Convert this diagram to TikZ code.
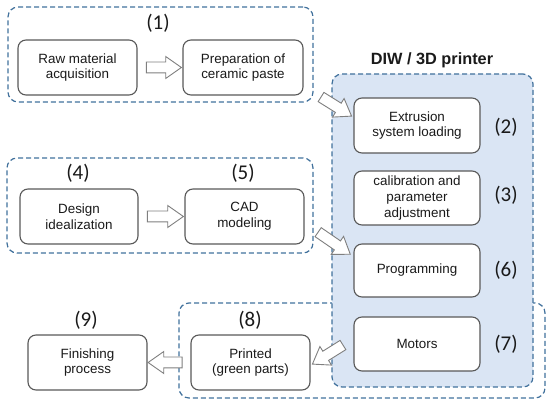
\documentclass[tikz,border=0pt]{standalone}
\usepackage{fontspec}
\setmainfont{Liberation Sans}
\newfontfamily\numfont{Carlito}
\usetikzlibrary{shapes.arrows,calc}
\definecolor{dashblue}{HTML}{41719C}
\definecolor{panelblue}{HTML}{DAE5F4}
\definecolor{boxgray}{HTML}{595959}
\definecolor{arrgray}{HTML}{7F7F7F}
\definecolor{txt}{HTML}{1A1A1A}
\begin{document}
\begin{tikzpicture}[x=1pt,y=-1pt,
 stepbox/.style={draw=boxgray, line width=1.1pt, rounded corners=8pt, fill=white, align=center, text=txt,
   font=\fontsize{13.4}{15.7}\selectfont, inner sep=0pt, minimum height=55pt},
 group/.style={draw=dashblue, line width=1.2pt, dash pattern=on 5pt off 3pt, rounded corners=10pt, inner sep=0pt},
 num/.style={font=\numfont\fontsize{21}{24}\selectfont, inner sep=0pt, text=txt},
 blockarrow/.style={single arrow, draw=arrgray, fill=white, line width=0.9pt, inner xsep=0pt, inner ysep=5pt,
   single arrow head extend=5.5pt, single arrow tip angle=70, minimum height=#1, anchor=center},
]
\useasboundingbox (0,0) rectangle (550,409);

% groups
\node[group, minimum width=305pt, minimum height=95pt] (g1) at (160.5,54.5) {};
\node[group, minimum width=306pt, minimum height=95pt] (g2) at (160,205.5) {};
\node[group, minimum width=366pt, minimum height=95pt] (g3) at (362,350.5) {};
\node[group, fill=panelblue, minimum width=201pt, minimum height=313pt] (panel) at (432.5,230.5) {};

\node[font=\bfseries\fontsize{16.3}{19}\selectfont, text=txt, inner sep=0pt] (title) at (432,60) {DIW / 3D printer};

% step boxes
\node[stepbox, minimum width=119pt] (raw) at (77.5,67.5) {Raw material\\acquisition};
\node[stepbox, minimum width=120pt] (prep) at (243,67.5) {Preparation of\\ceramic paste};
\node[stepbox, minimum width=118pt] (design) at (79,216.5) {Design\\idealization};
\node[stepbox, minimum width=119pt] (cad) at (244.5,216.5) {CAD\\modeling};
\node[stepbox, minimum width=126pt] (ext) at (417,125.5) {Extrusion\\system loading};
\node[stepbox, minimum width=126pt, minimum height=54pt] (cal) at (417,198) {calibration and\\parameter\\adjustment};
\node[stepbox, minimum width=126pt, minimum height=53pt] (prog) at (417,270.5) {Programming};
\node[stepbox, minimum width=126pt, minimum height=54pt] (mot) at (417,344) {Motors};
\node[stepbox, minimum width=119pt] (fin) at (87.5,362.5) {Finishing\\process};
\node[stepbox, minimum width=119pt] (prt) at (250.5,362.5) {Printed\\(green parts)};

% numbers
\node[num] (n1) at (158,23) {(1)};
\node[num] (n2) at (506,127) {(2)};
\node[num] (n3) at (506,195) {(3)};
\node[num] (n4) at (78,173) {(4)};
\node[num] (n5) at (243,173) {(5)};
\node[num] (n6) at (506,270) {(6)};
\node[num] (n7) at (506,344) {(7)};
\node[num] (n8) at (250,320) {(8)};
\node[num] (n9) at (86,320) {(9)};

% block arrows
\node[blockarrow=35pt] (a1) at ($(raw.east)!0.5!(prep.west)$) {};
\node[blockarrow=36pt] (a2) at ($(design.east)!0.5!(cad.west)$) {};
\node[blockarrow=34pt, rotate=180] (a3) at ($(fin.east)!0.5!(prt.west)$) {};
\node[blockarrow=36pt, rotate=-32] (d1) at (333,104.5) {};
\node[blockarrow=39pt, rotate=-34.5] (d2) at (331,241) {};
\node[blockarrow=36pt, rotate=-148] (d3) at (331,352.5) {};
\end{tikzpicture}
\end{document}
